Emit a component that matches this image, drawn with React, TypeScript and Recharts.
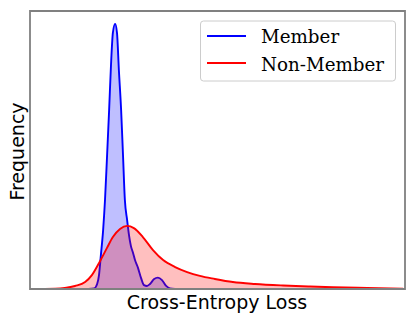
import React from 'react';
import { ComposedChart, Area, XAxis, YAxis, ReferenceArea } from 'recharts';

const memberLoss = [1.55, 1.71, 1.79, 1.84, 1.89, 1.95, 2.0, 2.05, 2.11, 2.16, 2.21, 2.27, 2.32, 2.37, 2.43, 2.48, 2.53, 2.59, 2.64, 2.69, 2.75, 2.8, 2.88, 2.96, 3.04, 3.12, 3.2, 3.31, 3.41, 3.52, 3.63, 3.73, 3.87];
const memberDensity = [0, 0.002, 0.018, 0.05, 0.122, 0.212, 0.32, 0.464, 0.644, 0.806, 0.921, 0.953, 0.921, 0.788, 0.644, 0.482, 0.32, 0.248, 0.194, 0.155, 0.129, 0.104, 0.076, 0.04, 0.014, 0.011, 0.018, 0.036, 0.041, 0.032, 0.011, 0.002, 0];

const nonMemberLoss = [0.4, 0.67, 0.93, 1.2, 1.47, 1.65, 1.87, 2.05, 2.21, 2.4, 2.59, 2.77, 3.01, 3.28, 3.55, 3.87, 4.19, 4.53, 4.93, 5.41, 6.0, 6.75, 7.47, 8.08, 8.99, 9.95];
const nonMemberDensity = [0, 0.0007, 0.0036, 0.0108, 0.025, 0.05, 0.101, 0.147, 0.187, 0.216, 0.227, 0.219, 0.187, 0.14, 0.104, 0.079, 0.061, 0.047, 0.036, 0.025, 0.018, 0.0126, 0.009, 0.0065, 0.0036, 0.0007];

const seriesNames = ['Member', 'Non-Member'];
const axisLabels = { x: 'Cross-Entropy Loss', y: 'Frequency' };

const memberData = memberLoss.map((x, i) => ({ x, y: memberDensity[i] }));
const nonMemberData = nonMemberLoss.map((x, i) => ({ x, y: nonMemberDensity[i] }));

export default function App() {
  return (
    <div style={{ position: 'absolute', left: 0, top: 0, width: 416, height: 320, background: '#fff' }}>
      <ComposedChart width={416} height={320} margin={{ top: 11, right: 11, bottom: 31, left: 30 }}>
        <XAxis type="number" dataKey="x" domain={[0, 10]} hide allowDuplicatedCategory={false} />
        <YAxis type="number" dataKey="y" domain={[0, 1]} hide />
        <Area
          data={memberData}
          dataKey="y"
          type="monotone"
          stroke="#0000ff"
          strokeWidth={1.9}
          fill="#0000ff"
          fillOpacity={0.25}
          isAnimationActive={false}
          dot={false}
          activeDot={false}
        />
        <Area
          data={nonMemberData}
          dataKey="y"
          type="monotone"
          stroke="#ff0000"
          strokeWidth={1.9}
          fill="#ff0000"
          fillOpacity={0.25}
          isAnimationActive={false}
          dot={false}
          activeDot={false}
        />
        <ReferenceArea x1={0} x2={10} y1={0} y2={1} fill="none" stroke="#808080" strokeWidth={1.8} ifOverflow="visible" />
        <text x={217} y={309} textAnchor="middle" fontFamily="DejaVu Sans" fontSize={19} fill="#000">{axisLabels.x}</text>
        <text x={23.5} y={151.5} textAnchor="middle" fontFamily="DejaVu Sans" fontSize={19} fill="#000" transform="rotate(-90 23.5 151.5)">{axisLabels.y}</text>
        <g>
          <rect x={200.5} y={21} width={195} height={60} rx={3} fill="#fff" fillOpacity={0.8} stroke="#cccccc" strokeWidth={1} />
          <line x1={207} y1={36} x2={246} y2={36} stroke="#0000ff" strokeWidth={1.9} />
          <line x1={207} y1={63} x2={246} y2={63} stroke="#ff0000" strokeWidth={1.9} />
          <text x={261} y={43.3} fontFamily="DejaVu Serif" fontSize={18.3} fill="#000">{seriesNames[0]}</text>
          <text x={261} y={70.5} fontFamily="DejaVu Serif" fontSize={18.3} fill="#000">{seriesNames[1]}</text>
        </g>
      </ComposedChart>
    </div>
  );
}
